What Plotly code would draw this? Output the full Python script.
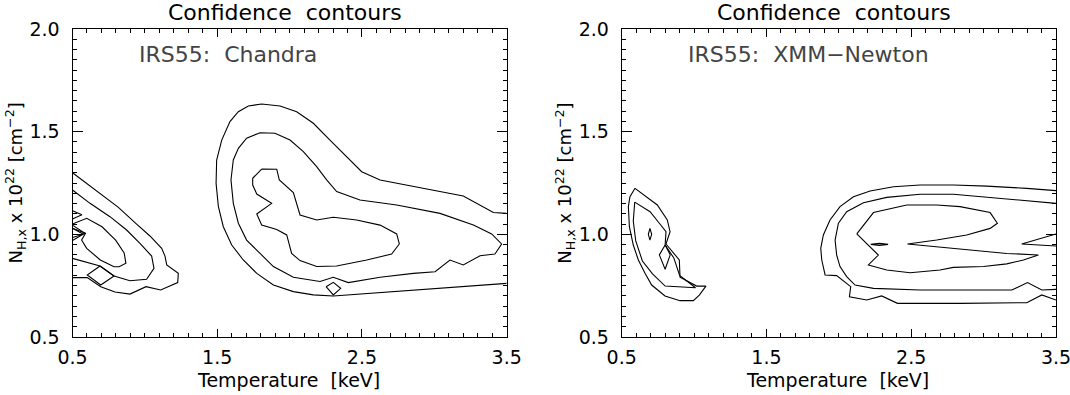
import plotly.graph_objects as go

# ---- data (temperature keV, N_H 1e22 cm^-2) ----
# Chandra panel
ch_outer_t = [3.50, 3.20, 2.855, 2.533, 2.302, 2.164, 2.026, 1.888, 1.773, 1.680, 1.600, 1.542, 1.508, 1.492, 1.496,
              1.531, 1.588, 1.646, 1.715, 1.807, 1.934, 2.049, 2.164, 2.279, 2.394, 2.498, 2.625, 2.970, 3.200, 3.408, 3.50]
ch_outer_nh = [0.761, 0.745, 0.729, 0.709, 0.700, 0.705, 0.721, 0.753, 0.810, 0.875, 0.948, 1.037, 1.135, 1.248, 1.362,
               1.459, 1.549, 1.597, 1.625, 1.635, 1.625, 1.597, 1.541, 1.459, 1.378, 1.305, 1.265, 1.216, 1.187, 1.106, 1.102]

ch_mid_t = [3.419, 3.316, 3.200, 3.108, 3.005, 2.855, 2.625, 2.406, 2.302, 2.210, 2.026, 1.888, 1.796, 1.703, 1.646,
            1.611, 1.595, 1.611, 1.646, 1.703, 1.796, 1.899, 2.003, 2.095, 2.187, 2.256, 2.325, 2.486, 2.740, 3.039,
            3.270, 3.396, 3.465, 3.419]
ch_mid_nh = [0.904, 0.896, 0.851, 0.875, 0.818, 0.810, 0.791, 0.765, 0.791, 0.770, 0.791, 0.843, 0.907, 0.972, 1.054,
             1.151, 1.265, 1.362, 1.419, 1.468, 1.495, 1.492, 1.459, 1.403, 1.330, 1.265, 1.208, 1.167, 1.143, 1.102,
             1.045, 1.002, 0.953, 0.904]

ch_inner_t = [1.807, 1.911, 1.929, 2.026, 2.072, 2.187, 2.302, 2.463, 2.625, 2.740, 2.758, 2.705, 2.533, 2.325, 2.187,
              2.072, 2.014, 1.980, 1.911, 1.807, 1.773, 1.876, 1.773, 1.745, 1.745, 1.807]
ch_inner_nh = [1.318, 1.317, 1.265, 1.203, 1.094, 1.070, 1.083, 1.070, 1.045, 1.002, 0.953, 0.904, 0.875, 0.846, 0.843,
               0.872, 0.907, 0.997, 1.024, 1.045, 1.099, 1.151, 1.196, 1.240, 1.273, 1.318]

ch_diamond_t = [2.252, 2.302, 2.353, 2.302, 2.252]
ch_diamond_nh = [0.745, 0.766, 0.737, 0.705, 0.745]

ch_lo_outer_t = [0.50, 0.667, 0.817, 0.943, 1.035, 1.116, 1.139, 1.151, 1.231, 1.227, 1.109, 1.008, 0.897, 0.794, 0.695, 0.602, 0.50]
ch_lo_outer_nh = [1.300, 1.213, 1.131, 1.050, 0.992, 0.932, 0.894, 0.851, 0.810, 0.765, 0.729, 0.745, 0.709, 0.719, 0.745, 0.789, 0.789]

ch_lo_mid_t = [0.50, 0.621, 0.759, 0.874, 0.966, 1.047, 1.063, 1.012, 0.897, 0.787, 0.690, 0.50]
ch_lo_mid_nh = [1.216, 1.151, 1.086, 1.021, 0.956, 0.894, 0.834, 0.781, 0.774, 0.797, 0.846, 0.883]

ch_lo_inner_t = [0.50, 0.598, 0.704, 0.798, 0.857, 0.869, 0.822, 0.787, 0.692, 0.598, 0.563, 0.590, 0.50]
ch_lo_inner_nh = [1.050, 1.078, 1.037, 0.972, 0.909, 0.859, 0.842, 0.842, 0.875, 0.932, 0.972, 1.005, 1.030]

ch_lo_diamond_t = [0.690, 0.602, 0.695, 0.787, 0.690]
ch_lo_diamond_nh = [0.846, 0.802, 0.753, 0.797, 0.846]

ch_notch_t = [0.50, 0.565, 0.50, None, 0.50, 0.585, 0.50, None, 0.50, 0.575, 0.50]
ch_notch_nh = [1.115, 1.095, 1.075, None, 1.045, 1.005, 0.970, None, 1.030, 1.000, 0.985]

# XMM-Newton panel
xm_lo_outer_t = [0.592, 0.684, 0.746, 0.815, 0.834, 0.806, 0.898, 0.903, 1.018, 1.082, 1.036, 0.995, 0.903, 0.799,
                 0.707, 0.661, 0.615, 0.580, 0.553, 0.546, 0.557, 0.592]
xm_lo_outer_nh = [1.224, 1.175, 1.143, 1.070, 1.013, 0.953, 0.875, 0.791, 0.748, 0.748, 0.704, 0.677, 0.677, 0.700,
                  0.753, 0.810, 0.875, 0.948, 1.037, 1.135, 1.183, 1.224]

xm_lo_inner_t = [0.590, 0.696, 0.760, 0.806, 0.800, 0.860, 0.900, 1.010, 0.800, 0.713, 0.643, 0.597, 0.580, 0.590]
xm_lo_inner_nh = [1.157, 1.110, 1.054, 1.013, 0.948, 0.885, 0.800, 0.740, 0.748, 0.807, 0.870, 0.968, 1.065, 1.157]

xm_lo_loop_t = [0.800, 0.760, 0.800, 0.835, 0.800]
xm_lo_loop_nh = [0.948, 0.900, 0.830, 0.900, 0.948]

xm_lens_t = [0.695, 0.707, 0.695, 0.684, 0.695]
xm_lens_nh = [1.029, 1.000, 0.972, 1.000, 1.029]

xm_outer_t = [3.500, 3.298, 3.022, 2.791, 2.561, 2.377, 2.216, 2.101, 2.008, 1.939, 1.893, 1.875, 1.882, 1.905,
              1.985, 2.043, 2.082, 2.073, 2.193, 2.296, 2.405, 2.837, 3.298, 3.402, 3.500]
xm_outer_nh = [1.213, 1.224, 1.235, 1.240, 1.240, 1.232, 1.211, 1.183, 1.135, 1.070, 0.997, 0.932, 0.875, 0.802,
               0.799, 0.769, 0.745, 0.696, 0.680, 0.700, 0.664, 0.664, 0.667, 0.705, 0.680]

xm_mid_t = [3.500, 3.298, 3.022, 2.791, 2.561, 2.331, 2.170, 2.054, 1.997, 1.974, 1.985, 2.008, 2.054, 2.112,
            2.239, 2.561, 3.195, 3.303, 3.402, 3.500]
xm_mid_nh = [1.151, 1.164, 1.183, 1.195, 1.195, 1.180, 1.154, 1.110, 1.054, 0.972, 0.899, 0.843, 0.794, 0.753,
             0.737, 0.729, 0.729, 0.765, 0.729, 0.732]

xm_inner_t = [2.124, 2.239, 2.469, 2.676, 2.837, 3.045, 3.095, 3.045, 2.883, 2.676, 2.474, 2.837, 3.160, 3.379,
              3.275, 3.160, 2.999, 2.791, 2.699, 2.492, 2.331, 2.204, 2.273, 2.124]
xm_inner_nh = [1.002, 1.106, 1.143, 1.143, 1.135, 1.106, 1.054, 1.029, 0.997, 0.972, 0.953, 0.927, 0.907, 0.899,
               0.875, 0.856, 0.843, 0.839, 0.826, 0.813, 0.826, 0.851, 0.899, 1.002]

xm_dash_t = [2.22, 2.28, 2.34, 2.28, 2.22]
xm_dash_nh = [0.951, 0.956, 0.951, 0.946, 0.951]

xm_edge_t = [3.500, 3.263, 3.500]
xm_edge_nh = [1.002, 0.953, 0.943]

panel_titles = ["Confidence contours", "Confidence contours"]
panel_labels = ["IRS55: Chandra", "IRS55: XMM\u2212Newton"]

W, H = 1070, 395
FONT = "DejaVu Sans"

chandra = [(ch_outer_t, ch_outer_nh), (ch_mid_t, ch_mid_nh), (ch_inner_t, ch_inner_nh),
           (ch_diamond_t, ch_diamond_nh), (ch_lo_outer_t, ch_lo_outer_nh), (ch_lo_mid_t, ch_lo_mid_nh),
           (ch_lo_inner_t, ch_lo_inner_nh), (ch_lo_diamond_t, ch_lo_diamond_nh), (ch_notch_t, ch_notch_nh)]
xmm = [(xm_lo_outer_t, xm_lo_outer_nh), (xm_lo_inner_t, xm_lo_inner_nh), (xm_lo_loop_t, xm_lo_loop_nh),
       (xm_lens_t, xm_lens_nh), (xm_outer_t, xm_outer_nh), (xm_mid_t, xm_mid_nh), (xm_inner_t, xm_inner_nh),
       (xm_dash_t, xm_dash_nh), (xm_edge_t, xm_edge_nh)]

fig = go.Figure()
for xa, ya, curves in [("x", "y", chandra), ("x2", "y2", xmm)]:
    for t, nh in curves:
        fig.add_trace(go.Scatter(x=t, y=nh, xaxis=xa, yaxis=ya, mode="lines",
                                 line=dict(color="black", width=1.1), showlegend=False, hoverinfo="skip"))


def px(x):
    return x / W


def py(y):
    return 1 - y / H


# panel positions in pixels
left_px = [72.5, 621.7]
right_px = [506.7, 1056.0]
top_px, bot_px = 29.0, 337.0

xax = dict(range=[0.5, 3.5], tick0=0.5, dtick=1, tickformat=".1f", showgrid=False, zeroline=False,
           automargin=False, showline=True, linecolor="black", linewidth=1, mirror="allticks",
           ticks="inside", ticklen=8, tickcolor="black", tickwidth=1, ticklabelstandoff=3,
           ticklabeloverflow="allow",
           minor=dict(ticks="inside", ticklen=4, dtick=0.1, tickcolor="black", tickwidth=1),
           tickfont=dict(family=FONT, size=19, color="black"))
yax = dict(range=[0.5, 2.0], tick0=0.5, dtick=0.5, tickformat=".1f", showgrid=False, zeroline=False,
           automargin=False, showline=True, linecolor="black", linewidth=1, mirror="allticks",
           ticks="inside", ticklen=10, tickcolor="black", tickwidth=1, ticklabelstandoff=8,
           ticklabeloverflow="allow",
           minor=dict(ticks="inside", ticklen=4, dtick=0.05, tickcolor="black", tickwidth=1),
           tickfont=dict(family=FONT, size=19, color="black"))

ydom = [py(bot_px), py(top_px)]
fig.update_layout(
    xaxis=dict(xax, domain=[px(left_px[0]), px(right_px[0])], anchor="y"),
    yaxis=dict(yax, domain=ydom, anchor="x"),
    xaxis2=dict(xax, domain=[px(left_px[1]), px(right_px[1])], anchor="y2"),
    yaxis2=dict(yax, domain=ydom, anchor="x2"),
)

annotations = []
for i in range(2):
    cx = (left_px[i] + right_px[i]) / 2
    annotations.append(dict(text=panel_titles[i].replace(" ", "\u00a0\u00a0"), x=px(cx - 5), y=py(12.5),
                            xref="paper", yref="paper", xanchor="center", yanchor="middle", showarrow=False,
                            font=dict(family=FONT, size=22, color="black")))
    annotations.append(dict(text=panel_labels[i].replace(" ", "\u00a0\u00a0"), x=px(left_px[i] + 64),
                            y=py(54), xref="paper", yref="paper", xanchor="left", yanchor="middle",
                            showarrow=False, font=dict(family=FONT, size=22, color="#444444")))
    annotations.append(dict(text="Temperature\u00a0\u00a0[keV]", x=px(cx - 1), y=py(380),
                            xref="paper", yref="paper", xanchor="center", yanchor="middle", showarrow=False,
                            font=dict(family=FONT, size=19, color="black")))
    annotations.append(dict(text="N<sub>H,x</sub> x 10<sup>22</sup> [cm<sup>\u22122</sup>]",
                            x=px(left_px[i] - 57), y=py(183), textangle=-90,
                            xref="paper", yref="paper", xanchor="center", yanchor="middle", showarrow=False,
                            font=dict(family=FONT, size=18, color="black")))

fig.update_layout(annotations=annotations, width=W, height=H,
                  margin=dict(l=0, r=0, t=0, b=0, autoexpand=False),
                  paper_bgcolor="white", plot_bgcolor="white")

# drop the page's default body margin so the figure sits at the window's corner
fig.write_html("out.html", config={"displayModeBar": False},
               post_script="document.body.style.margin='0';")
